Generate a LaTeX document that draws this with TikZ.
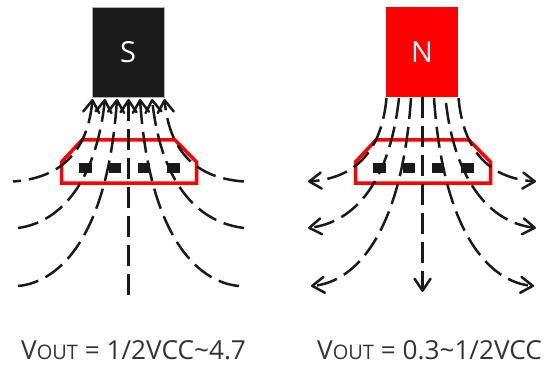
\documentclass[tikz,border=0pt]{standalone}
\usepackage{fontspec}
\setmainfont{Open Sans}
\usetikzlibrary{arrows.meta}
\definecolor{ink}{HTML}{1A1A1A}
\definecolor{txt}{HTML}{333333}
\newcommand{\vout}[1]{{\fontsize{26.2}{28}\selectfont V{\fontsize{20}{22}\selectfont OUT} = #1}}
\tikzset{
  magnet/.style={minimum width=72pt,minimum height=90pt,inner sep=0pt,text=white,font=\fontsize{29}{32}\selectfont},
  hall/.style={draw=red,line width=3.5pt,fill=white,miter limit=10},
  pin/.style={fill=ink,minimum width=12.5pt,minimum height=10pt,inner sep=0pt},
  field/.style={draw=ink,line width=2.5pt,dash pattern=on 21pt off 8pt},
  fieldtip/.style={field,-{Straight Barb[length=12pt,width=16pt,line width=2.5pt,round]}},
  caption/.style={text=txt,anchor=base west,inner sep=0pt},
}
\begin{document}
\begin{tikzpicture}[x=1pt,y=-1pt]
\useasboundingbox (0,0) rectangle (548,366);
% ---- S side
\node[magnet,fill=ink,draw=black!30,line width=.6pt] (S) at (128,52) {S};
\draw[hall] (61.5,162) -- (82,140) -- (175,140) -- (196.5,162) -- (196.5,183) -- (61.5,183) -- cycle;
\node[pin] (sa) at (85.5,168) {};
\node[pin] (sb) at (115,168) {};
\node[pin] (sc) at (144,168) {};
\node[pin] (sd) at (173.5,168) {};
\coordinate (s1) at (92.5,99); \coordinate (s2) at (105,99); \coordinate (s3) at (117,99);
\coordinate (s4) at (128.5,99);
\coordinate (s5) at (140,99); \coordinate (s6) at (152,99); \coordinate (s7) at (164.5,99);
\coordinate (sl1) at (13,181.5); \coordinate (sl2) at (18,228); \coordinate (sl3) at (18,286);
\coordinate (sm) at (128.5,295);
\coordinate (sr1) at (244,181.5); \coordinate (sr2) at (244,228); \coordinate (sr3) at (239,286);
\draw[fieldtip,dash phase=13pt] (sl1) .. controls (65,178) and (88,147) .. (s1);
\draw[fieldtip] (sl2) .. controls (62,222) and (96,180) .. (s2);
\draw[fieldtip] (sl3) .. controls (62,282) and (108,232) .. (s3);
\draw[fieldtip] (sm) -- (s4);
\draw[fieldtip] (sr3) .. controls (195,282) and (149,232) .. (s5);
\draw[fieldtip] (sr2) .. controls (195,222) and (161,180) .. (s6);
\draw[fieldtip] (sr1) .. controls (192,178) and (169,147) .. (s7);
\node[caption] (vs) at (21,359) {\vout{1/2VCC\textasciitilde4.7}};
% ---- N side
\node[magnet,fill=red] (N) at (422,52) {N};
\draw[hall] (355.5,162) -- (376,140) -- (469,140) -- (490.5,162) -- (490.5,183) -- (355.5,183) -- cycle;
\node[pin] (na) at (379.5,168) {};
\node[pin] (nb) at (409,168) {};
\node[pin] (nc) at (438,168) {};
\node[pin] (nd) at (467.5,168) {};
\coordinate (n1) at (386.5,98); \coordinate (n2) at (399,98); \coordinate (n3) at (411,98);
\coordinate (n4) at (422.5,97);
\coordinate (n5) at (434,98); \coordinate (n6) at (446,103); \coordinate (n7) at (458.5,98);
\coordinate (nl1) at (308,181.5); \coordinate (nl2) at (308,228); \coordinate (nl3) at (311,286);
\coordinate (nm) at (422.5,292);
\coordinate (nr1) at (536,181.5); \coordinate (nr2) at (536,228); \coordinate (nr3) at (534,286);
\draw[fieldtip] (n1) .. controls (382,147) and (359,178) .. (nl1);
\draw[fieldtip] (n2) .. controls (390,180) and (356,222) .. (nl2);
\draw[fieldtip] (n3) .. controls (402,232) and (356,282) .. (nl3);
\draw[fieldtip] (n4) -- (nm);
\draw[fieldtip] (n5) .. controls (443,232) and (489,282) .. (nr3);
\draw[fieldtip] (n6) .. controls (455,180) and (489,222) .. (nr2);
\draw[fieldtip] (n7) .. controls (463,147) and (486,178) .. (nr1);
\node[caption] (vn) at (317,359) {\vout{0.3\textasciitilde1/2VCC}};
\end{tikzpicture}
\end{document}
